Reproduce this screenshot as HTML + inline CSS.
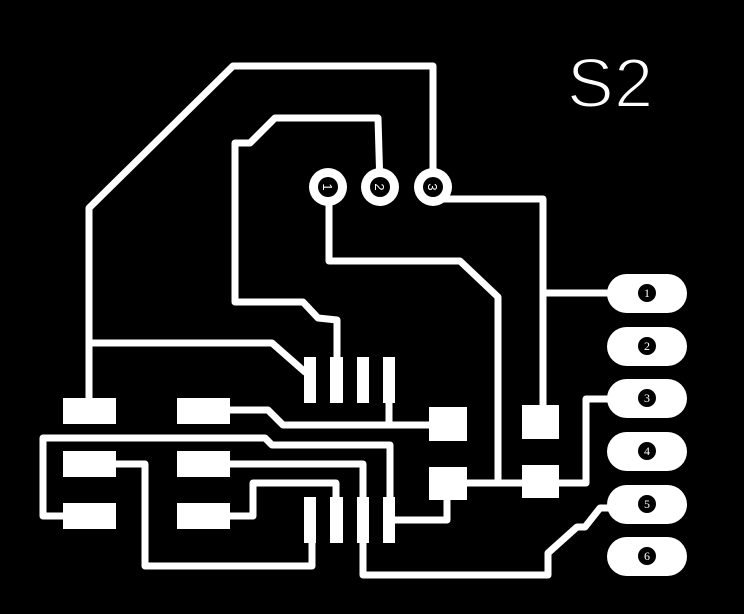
<!DOCTYPE html>
<html><head><style>html,body{margin:0;padding:0;background:#000;}svg{display:block}</style></head>
<body>
<svg width="744" height="614" viewBox="0 0 744 614" xmlns="http://www.w3.org/2000/svg">
<rect width="744" height="614" fill="#000"/>
<g fill="none" stroke="#fff" stroke-width="7" stroke-linejoin="round" stroke-linecap="round">
<polyline points="89,410 89,208 233,66 433,66 433,187"/>
<polyline points="89,343 272,343 305,372"/>
<polyline points="337,370 337,320 318,318 303,302 235,302 235,143 250,143 275,118 378,118 380,187"/>
<polyline points="329,187 329,261 460,261 498,297 498,483"/>
<polyline points="433,199 543,199 543,410"/>
<polyline points="543,293 610,293"/>
<polyline points="230,410 268,410 283,425 440,425"/>
<polyline points="389,400 389,425"/>
<polyline points="70,516 43,516 43,438 265,438 272,445 390,445 390,520 447,520 447,490"/>
<polyline points="116,464 145,464 145,566 312,566 312,530"/>
<polyline points="230,464 363,464 363,575 548,575 548,553 577,527 585,527 600,508 615,508"/>
<polyline points="225,516 253,516 253,483 336,483 336,520"/>
<polyline points="460,483 540,483"/>
<polyline points="555,483 586,483 586,399 615,399"/>
</g>
<g fill="#fff">
<rect x="63" y="398" width="53" height="26"/><rect x="63" y="451" width="53" height="26"/><rect x="63" y="503" width="53" height="26"/>
<rect x="177" y="398" width="53" height="26"/><rect x="177" y="451" width="53" height="26"/><rect x="177" y="503" width="53" height="26"/>
<rect x="304" y="357" width="12" height="46"/><rect x="330" y="357" width="13" height="46"/><rect x="357" y="357" width="12" height="46"/><rect x="383" y="357" width="12" height="46"/>
<rect x="304" y="497" width="12" height="46"/><rect x="330" y="497" width="13" height="46"/><rect x="357" y="497" width="12" height="46"/><rect x="383" y="497" width="12" height="46"/>
<rect x="429" y="407" width="38" height="34"/><rect x="429" y="467" width="38" height="33"/>
<rect x="522" y="405" width="37" height="34"/><rect x="522" y="465" width="37" height="33"/>
<circle cx="328" cy="187" r="19"/><circle cx="380" cy="187" r="19"/><circle cx="433" cy="187" r="19"/>
<rect x="607" y="274" width="80" height="39" rx="19.5"/>
<rect x="607" y="327" width="80" height="39" rx="19.5"/>
<rect x="607" y="379" width="80" height="39" rx="19.5"/>
<rect x="607" y="432" width="80" height="39" rx="19.5"/>
<rect x="607" y="485" width="80" height="39" rx="19.5"/>
<rect x="607" y="537" width="80" height="39" rx="19.5"/>
</g>
<g fill="#000">
<circle cx="328" cy="187" r="10"/><circle cx="380" cy="187" r="10"/><circle cx="433" cy="187" r="10"/>
<circle cx="647" cy="293" r="9"/><circle cx="647" cy="346" r="9"/><circle cx="647" cy="398" r="9"/>
<circle cx="647" cy="451" r="9"/><circle cx="647" cy="504" r="9"/><circle cx="647" cy="556" r="9"/>
</g>
<g fill="#fff" font-family="Liberation Serif, serif" font-size="12" text-anchor="middle">
<text x="647" y="297">1</text><text x="647" y="350">2</text><text x="647" y="402">3</text>
<text x="647" y="455">4</text><text x="647" y="508">5</text><text x="647" y="560">6</text>
</g>
<g fill="#fff" font-family="Liberation Sans, sans-serif" font-size="13" text-anchor="middle">
<text transform="translate(323,187) rotate(90)">1</text>
<text transform="translate(375,187) rotate(90)">2</text>
<text transform="translate(428,187) rotate(90)">3</text>
</g>
<text x="610" y="107" fill="#fff" font-family="Liberation Sans, sans-serif" font-size="70" text-anchor="middle" textLength="86" stroke="#000" stroke-width="2">S2</text>
</svg>
</body></html>
